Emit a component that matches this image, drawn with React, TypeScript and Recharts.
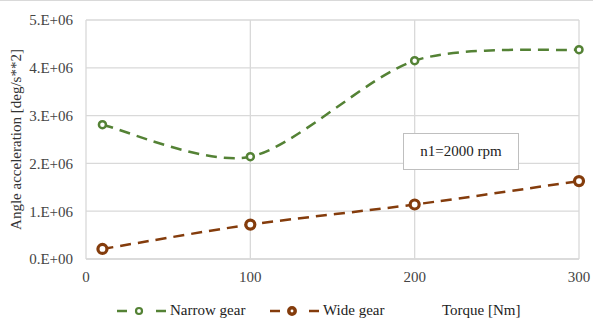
import { CartesianGrid, Legend, Line, LineChart, XAxis, YAxis } from 'recharts';

const torque = [10, 100, 200, 300];
const narrowGear = [2.81e6, 2.14e6, 4.15e6, 4.38e6];
const wideGear = [0.21e6, 0.72e6, 1.14e6, 1.63e6];
const xTicks = [0, 100, 200, 300];
const yTicks = [0, 1e6, 2e6, 3e6, 4e6, 5e6];

const GREEN = '#548235';
const BROWN = '#843c0c';
const GRID = '#d9d9d9';
const FONT = '"Liberation Serif", "Times New Roman", serif';

const data = torque.map((t, i) => ({ torque: t, narrow: narrowGear[i], wide: wideGear[i] }));

// Excel-like smoothing: cubic beziers with tangents from neighbouring points
const TENSION = 1 / 7;
function smoothCurve(context: any) {
  let pts: number[][] = [];
  return {
    areaStart() {},
    areaEnd() {},
    lineStart() {
      pts = [];
    },
    lineEnd() {
      if (!pts.length) return;
      context.moveTo(pts[0][0], pts[0][1]);
      for (let i = 0; i < pts.length - 1; i++) {
        const p0 = pts[Math.max(i - 1, 0)];
        const p1 = pts[i];
        const p2 = pts[i + 1];
        const p3 = pts[Math.min(i + 2, pts.length - 1)];
        context.bezierCurveTo(
          p1[0] + (p2[0] - p0[0]) * TENSION,
          p1[1] + (p2[1] - p0[1]) * TENSION,
          p2[0] - (p3[0] - p1[0]) * TENSION,
          p2[1] - (p3[1] - p1[1]) * TENSION,
          p2[0],
          p2[1],
        );
      }
    },
    point(x: number, y: number) {
      pts.push([+x, +y]);
    },
  };
}

const fmtY = (v: number) => `${Math.round(v / 1e6)}.E+${v === 0 ? '00' : '06'}`;

function LegendIcon({ color, r, sw }: { color: string; r: number; sw: number }) {
  return (
    <svg width={50} height={14} style={{ display: 'block' }}>
      <line x1={0} y1={7} x2={10} y2={7} stroke={color} strokeWidth={2.5} />
      <line x1={39} y1={7} x2={49} y2={7} stroke={color} strokeWidth={2.5} />
      <circle cx={22} cy={7} r={r} fill="#fff" stroke={color} strokeWidth={sw} />
    </svg>
  );
}

function ChartLegend() {
  return (
    <div style={{ position: 'relative', height: 24, width: 593, fontFamily: FONT, fontSize: 15, color: '#222', lineHeight: '17px' }}>
      <div style={{ position: 'absolute', left: 117, top: 7 }}>
        <LegendIcon color={GREEN} r={3} sw={2.2} />
      </div>
      <span style={{ position: 'absolute', left: 170, top: 5 }}>Narrow gear</span>
      <div style={{ position: 'absolute', left: 270, top: 7 }}>
        <LegendIcon color={BROWN} r={3.2} sw={3.5} />
      </div>
      <span style={{ position: 'absolute', left: 323, top: 5 }}>Wide gear</span>
      <span style={{ position: 'absolute', left: 442, top: 5 }}>Torque [Nm]</span>
    </div>
  );
}

const YLabel = (props: any) => {
  const { viewBox } = props;
  const cx = 16;
  const cy = viewBox.y + viewBox.height / 2;
  return (
    <text
      x={cx}
      y={cy}
      transform={`rotate(-90 ${cx} ${cy})`}
      textAnchor="middle"
      dominantBaseline="central"
      fontFamily={FONT}
      fontSize={15}
      fill="#333"
    >
      Angle acceleration [deg/s**2]
    </text>
  );
};

export default function App() {
  return (
    <div style={{ position: 'absolute', left: 0, top: 0, width: 593, height: 320, background: '#fff', borderTop: `1px solid ${GRID}`, boxSizing: 'border-box' }}>
      <LineChart width={593} height={319} data={data} margin={{ top: 19, right: 14, bottom: 7, left: 0 }}>
        <CartesianGrid stroke={GRID} strokeWidth={1.3} />
        <XAxis
          dataKey="torque"
          type="number"
          domain={[0, 300]}
          ticks={xTicks}
          axisLine={{ stroke: GRID, strokeWidth: 1.3 }}
          tickLine={false}
          tick={{ fontFamily: FONT, fontSize: 15, fill: '#444' }}
          tickMargin={6}
          height={30}
        />
        <YAxis
          type="number"
          domain={[0, 5e6]}
          ticks={yTicks}
          tickFormatter={fmtY}
          axisLine={false}
          tickLine={false}
          tick={{ fontFamily: FONT, fontSize: 15, fill: '#444' }}
          tickMargin={7}
          width={86}
          label={<YLabel />}
        />
        <Legend verticalAlign="bottom" content={<ChartLegend />} wrapperStyle={{ left: 0, top: 296, width: 593, height: 24 }} />
        <Line
          dataKey="narrow"
          type={smoothCurve as any}
          stroke={GREEN}
          strokeWidth={2.5}
          strokeDasharray="11 7"
          dot={{ r: 3.5, fill: '#fff', stroke: GREEN, strokeWidth: 2.5, strokeDasharray: '' }}
          isAnimationActive={false}
        />
        <Line
          dataKey="wide"
          type={smoothCurve as any}
          stroke={BROWN}
          strokeWidth={2.5}
          strokeDasharray="11 7"
          dot={{ r: 4.5, fill: '#fff', stroke: BROWN, strokeWidth: 3.2, strokeDasharray: '' }}
          isAnimationActive={false}
        />
      </LineChart>
      <div
        style={{
          position: 'absolute',
          left: 403,
          top: 132,
          width: 116,
          height: 37,
          boxSizing: 'border-box',
          border: '1.5px solid #bfbfbf',
          background: '#fff',
          fontFamily: FONT,
          fontSize: 15,
          color: '#222',
          display: 'flex',
          alignItems: 'center',
          justifyContent: 'center',
        }}
      >
        n1=2000 rpm
      </div>
    </div>
  );
}
